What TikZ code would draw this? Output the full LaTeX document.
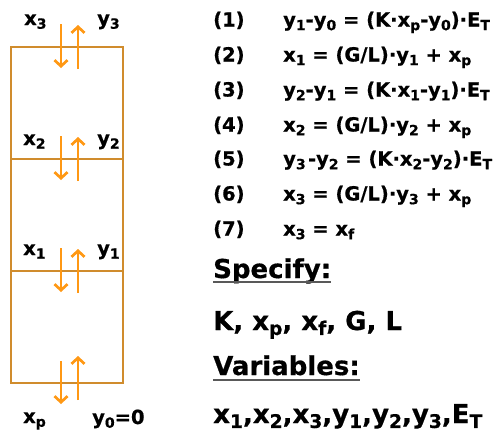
\documentclass[tikz,border=0pt]{standalone}
\usepackage{fontspec}
\usepackage{graphicx}
\setmainfont{DejaVu Sans}[BoldFeatures={FakeBold=0.6}]
\usetikzlibrary{arrows.meta}
\newcommand\subs[1]{\raisebox{-0.19em}{\scalebox{0.72}{#1}}}
\definecolor{boxc}{RGB}{208,140,45}
\definecolor{arrc}{RGB}{255,152,20}
\tikzset{
  eqn/.style={anchor=base west, inner sep=0pt, font=\fontsize{19.5}{22}\selectfont\bfseries},
  big/.style={anchor=base west, inner sep=0pt, font=\fontsize{26}{30}\selectfont\bfseries},
  flow/.style={draw=arrc, line width=2.7pt, -{Straight Barb[length=6pt,width=13pt]}},
  wall/.style={draw=boxc, line width=1.8pt},
  uline/.style={draw=black!65, line width=2pt}
}
\begin{document}
\begin{tikzpicture}[x=1pt,y=-1pt]
\useasboundingbox (0,0) rectangle (497,434);
% column
\draw[wall] (11,47) rectangle (123,383);
\draw[wall] (11,159) -- (123,159);
\draw[wall] (11,271) -- (123,271);
% arrow end points
\foreach \n/\t in {a/24,b/136,c/248}{
  \coordinate (\n d1) at (61,\t);
  \coordinate (\n d2) at (61,\t+44);
  \coordinate (\n u1) at (78,\t+45);
  \coordinate (\n u2) at (78,\t+1);
}
\coordinate (dd1) at (61,361);
\coordinate (dd2) at (61,404);
\coordinate (du1) at (78,400);
\coordinate (du2) at (78,356);
\foreach \n in {a,b,c,d}{
  \draw[flow] (\n d1) -- (\n d2);
  \draw[flow] (\n u1) -- (\n u2);
}
% stream labels
\node[eqn] (x3) at (24,25) {x\subs{3}};
\node[eqn] (y3) at (97,25) {y\subs{3}};
\node[eqn] (x2) at (23,145) {x\subs{2}};
\node[eqn] (y2) at (97,145) {y\subs{2}};
\node[eqn] (x1) at (23,255) {x\subs{1}};
\node[eqn] (y1) at (97,255) {y\subs{1}};
\node[eqn] (xp) at (23,423) {x\subs{p}};
\node[eqn] (y0) at (92,424) {y\subs{0}=0};
% equations
\node[eqn] (n1) at (213,26.5) {(1)};
\node[eqn] (e1) at (283,26.5) {y\subs{1}-y\subs{0} = (K·x\subs{p}-y\subs{0})·E\subs{T}};
\node[eqn] (n2) at (213,61.5) {(2)};
\node[eqn] (e2) at (283,61.5) {x\subs{1} = (G/L)·y\subs{1} + x\subs{p}};
\node[eqn] (n3) at (213,96.5) {(3)};
\node[eqn] (e3) at (283,96.5) {y\subs{2}-y\subs{1} = (K·x\subs{1}-y\subs{1})·E\subs{T}};
\node[eqn] (n4) at (213,131.5) {(4)};
\node[eqn] (e4) at (283,131.5) {x\subs{2} = (G/L)·y\subs{2} + x\subs{p}};
\node[eqn] (n5) at (213,165.5) {(5)};
\node[eqn] (e5) at (283,165.5) {y\subs{3}\hspace{0.12em}-y\subs{2} = (K·x\subs{2}-y\subs{2})·E\subs{T}};
\node[eqn] (n6) at (213,200.5) {(6)};
\node[eqn] (e6) at (283,200.5) {x\subs{3} = (G/L)·y\subs{3} + x\subs{p}};
\node[eqn] (n7) at (213,235.5) {(7)};
\node[eqn] (e7) at (283,235.5) {x\subs{3} = x\subs{f}};
% specify / variables
\node[big] (sp) at (213,278) {Specify:};
\draw[uline] ([yshift=-4pt]sp.base west) -- ([yshift=-4pt]sp.base east);
\node[big] (spv) at (213,330) {K, x\subs{p}, x\subs{f}, G, L};
\node[big] (va) at (213,375) {Variables:};
\draw[uline] ([yshift=-5pt]va.base west) -- ([yshift=-5pt]va.base east);
\node[big] (vav) at (213,423) {x\subs{1},x\subs{2},x\subs{3},y\subs{1},y\subs{2},y\subs{3},E\subs{T}};
\end{tikzpicture}
\end{document}
